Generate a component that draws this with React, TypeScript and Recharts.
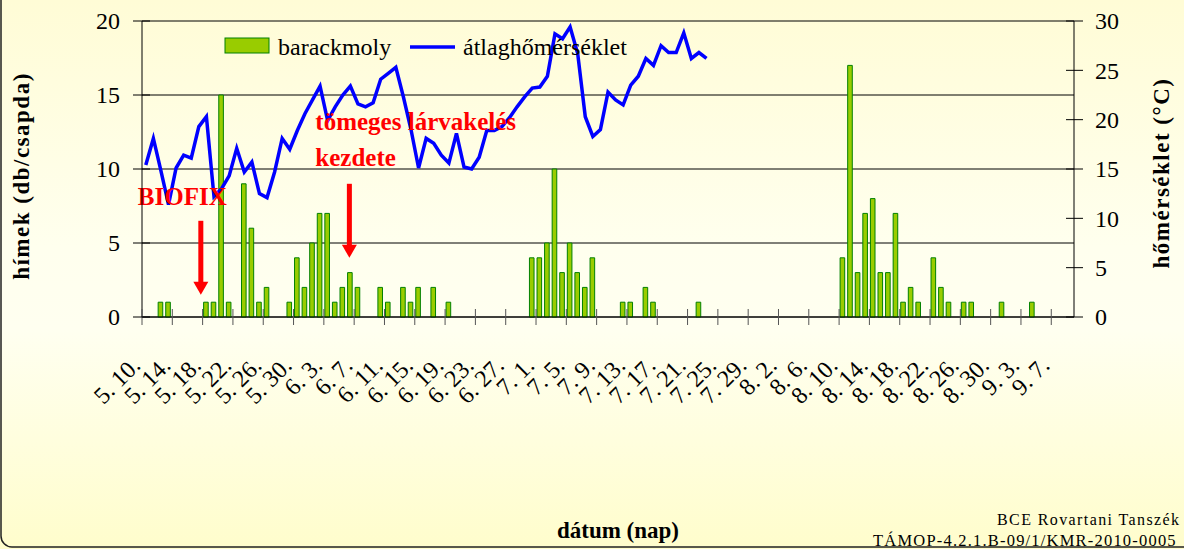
import { ComposedChart, Bar, Line, XAxis, YAxis, CartesianGrid, Legend, ReferenceLine } from 'recharts'

// month, first day, last day shown
const MONTHS = [
  [5, 10, 31],
  [6, 1, 30],
  [7, 1, 31],
  [8, 1, 31],
  [9, 1, 9],
]
const DATES = MONTHS.flatMap(([m, from, to]) =>
  Array.from({ length: to - from + 1 }, (_, k) => `${m}. ${from + k}.`)
)

// barackmoly (hímek / csapda)
const MOLY_MAY = [0, 0, 1, 1, 0, 0, 0, 0, 1, 1, 15, 1, 0, 9, 6, 1, 2, 0, 0, 1, 4, 2]
const MOLY_JUN = [5, 7, 7, 1, 2, 3, 2, 0, 0, 2, 1, 0, 2, 1, 2, 0, 2, 0, 1, 0, 0, 0, 0, 0, 0, 0, 0, 0, 0, 4]
const MOLY_JUL = [4, 5, 10, 3, 5, 3, 2, 4, 0, 0, 0, 1, 1, 0, 2, 1, 0, 0, 0, 0, 0, 1, 0, 0, 0, 0, 0, 0, 0, 0, 0]
const MOLY_AUG = [0, 0, 0, 0, 0, 0, 0, 0, 0, 4, 17, 3, 7, 8, 3, 3, 7, 1, 2, 1, 0, 4, 2, 1, 0, 1, 1, 0, 0, 0, 1]
const MOLY_SEP = [0, 0, 0, 1, 0, 0, 0, 0, 0]

// átlaghőmérséklet (°C), 5.10 - 7.23
const TEMP_MAY = [15.4, 18.1, 14.8, 11.4, 15.1, 16.4, 16.1, 19.3, 20.3, 12.2, 13.0, 14.3, 17.1, 14.7, 15.7, 12.5, 12.1, 14.7, 18.1, 17.0, 18.9, 20.6]
const TEMP_JUN = [22.0, 23.4, 19.9, 21.3, 22.5, 23.4, 21.6, 21.3, 21.7, 24.1, 24.7, 25.3, 22.3, 19.0, 15.1, 18.1, 17.6, 16.4, 15.6, 18.6, 15.2, 15.0, 16.2, 18.9, 18.9, 19.3, 20.2, 21.3, 22.3, 23.2]
const TEMP_JUL = [23.3, 24.4, 28.7, 28.2, 29.4, 26.7, 20.3, 18.3, 19.0, 22.8, 22.0, 21.5, 23.5, 24.4, 26.2, 25.5, 27.5, 26.8, 26.8, 28.8, 26.2, 26.8, 26.2]

const LEFT_TICKS = [0, 5, 10, 15, 20]
const RIGHT_TICKS = [0, 5, 10, 15, 20, 25, 30]

const MOLY = [...MOLY_MAY, ...MOLY_JUN, ...MOLY_JUL, ...MOLY_AUG, ...MOLY_SEP]
const TEMP = [...TEMP_MAY, ...TEMP_JUN, ...TEMP_JUL]
const DATA = DATES.map((date, i) => ({ date, moly: MOLY[i], temp: TEMP[i] ?? null }))

const W = 1184
const H = 549
const LEFT_W = 142
const RIGHT_W = 110
const PLOT_W = W - LEFT_W - RIGHT_W
const HALF_BAND = PLOT_W / DATES.length / 2

const FONT = '"Liberation Serif", "Times New Roman", serif'

function DateTick({ x, y, payload }: any) {
  const bx = x - HALF_BAND
  const tx = x - 4
  const ty = y + 50
  return (
    <g>
      <line x1={bx} x2={bx} y1={y - 8} y2={y + 8} stroke="#555" />
      <text x={tx} y={ty} transform={`rotate(-45 ${tx} ${ty})`} textAnchor="end" fontSize={24} fontFamily={FONT} fill="#000">
        {payload.value}
      </text>
    </g>
  )
}

function LeftTick({ x, y, payload }: any) {
  return (
    <g>
      <line x1={x - 9} x2={x + 8} y1={y} y2={y} stroke="#000" />
      <text x={x - 22} y={y} dy="0.35em" textAnchor="end" fontSize={24} fontFamily={FONT} fill="#000">
        {payload.value}
      </text>
    </g>
  )
}

function RightTick({ x, y, payload }: any) {
  return (
    <g>
      <line x1={x - 8} x2={x + 9} y1={y} y2={y} stroke="#000" />
      <text x={x + 21} y={y} dy="0.35em" textAnchor="start" fontSize={24} fontFamily={FONT} fill="#000">
        {payload.value}
      </text>
    </g>
  )
}

function LegendBox() {
  return (
    <svg width={440} height={32} style={{ display: 'block' }}>
      <rect x={5} y={5} width={44} height={15} fill="#99CC00" stroke="#008000" />
      <text x={58} y={22} fontSize={24} fontFamily={FONT} fill="#000">barackmoly</text>
      <line x1={190} x2={235} y1={14} y2={14} stroke="#0000FF" strokeWidth={3.5} />
      <text x={243} y={22} fontSize={24} fontFamily={FONT} fill="#000">átlaghőmérséklet</text>
    </svg>
  )
}

type Note = { text: string; dx: number; dy: number }

function arrowShape(notes: Note[], shift: number) {
  return (p: any) => {
    const x = p.x1 + shift
    const top = Math.min(p.y1, p.y2)
    const tip = Math.max(p.y1, p.y2)
    return (
      <g>
        <rect x={x - 2.5} y={top} width={5} height={tip - top - 12} fill="#FF0000" />
        <polygon points={`${x - 7.5},${tip - 13} ${x + 7.5},${tip - 13} ${x},${tip}`} fill="#FF0000" />
        {notes.map((n) => (
          <text key={n.text} x={x + n.dx} y={top + n.dy} fontSize={25} fontWeight="bold" fontFamily={FONT} fill="#FF0000">
            {n.text}
          </text>
        ))}
      </g>
    )
  }
}

export default function App() {
  return (
    <div
      style={{
        position: 'absolute',
        left: 0,
        top: 0,
        width: W,
        height: H,
        overflow: 'hidden',
        background: 'linear-gradient(180deg, #FFFCD6 0%, #FFFFEE 45%, #FFFFF0 60%, #FFFDCC 100%)',
      }}
    >
      <svg width={W} height={H} style={{ position: 'absolute', left: 0, top: 0 }}>
        <rect x={1} y={-30} width={1300} height={577} rx={11} fill="none" stroke="#222" strokeWidth={1.5} />
        <text x={997} y={525} fontSize={16} letterSpacing={1.4} fontFamily={FONT} fill="#000">BCE Rovartani Tanszék</text>
        <text x={873} y={546} fontSize={16.5} letterSpacing={1.2} fontFamily={FONT} fill="#000">TÁMOP-4.2.1.B-09/1/KMR-2010-0005</text>
      </svg>
      <ComposedChart
        width={W}
        height={H}
        data={DATA}
        margin={{ top: 21, right: 0, bottom: 0, left: 0 }}
        barGap={0}
        style={{ position: 'absolute', left: 0, top: 0 }}
      >
        <CartesianGrid yAxisId="left" vertical={false} stroke="#000" />
        <XAxis
          dataKey="date"
          interval={3}
          height={232}
          tickSize={0}
          tickMargin={0}
          tickLine={false}
          axisLine={{ stroke: '#000' }}
          tick={(p: any) => <DateTick {...p} />}
          label={{
            content: (lp: any) => {
              const vb = lp.viewBox
              return (
                <text x={vb.x + vb.width / 2 + 10} y={vb.y + vb.height - 11} textAnchor="middle" fontSize={23} fontWeight="bold" fontFamily={FONT} fill="#000">
                  dátum (nap)
                </text>
              )
            },
          }}
        />
        <YAxis
          yAxisId="left"
          domain={[0, 20]}
          ticks={LEFT_TICKS}
          interval={0}
          width={LEFT_W}
          tickSize={0}
          tickMargin={0}
          tickLine={false}
          axisLine={{ stroke: '#000' }}
          tick={(p: any) => <LeftTick {...p} />}
          label={{
            content: (lp: any) => {
              const vb = lp.viewBox
              const cy = vb.y + vb.height / 2 + 7
              return (
                <text transform={`translate(29 ${cy}) rotate(-90)`} textAnchor="middle" fontSize={23} letterSpacing={1.5} fontWeight="bold" fontFamily={FONT} fill="#000">
                  hímek (db/csapda)
                </text>
              )
            },
          }}
        />
        <YAxis
          yAxisId="right"
          orientation="right"
          domain={[0, 30]}
          ticks={RIGHT_TICKS}
          interval={0}
          width={RIGHT_W}
          tickSize={0}
          tickMargin={0}
          tickLine={false}
          axisLine={{ stroke: '#000' }}
          tick={(p: any) => <RightTick {...p} />}
          label={{
            content: (lp: any) => {
              const vb = lp.viewBox
              const cy = vb.y + vb.height / 2 + 4
              return (
                <text transform={`translate(${vb.x + 95} ${cy}) rotate(-90)`} textAnchor="middle" fontSize={23} letterSpacing={1.5} fontWeight="bold" fontFamily={FONT} fill="#000">
                  hőmérséklet (°C)
                </text>
              )
            },
          }}
        />
        <Bar yAxisId="left" dataKey="moly" name="barackmoly" fill="#99CC00" stroke="#008000" strokeWidth={1} barSize={4.6} isAnimationActive={false} />
        <Line
          yAxisId="right"
          dataKey="temp"
          name="átlaghőmérséklet"
          type="linear"
          stroke="#0000FF"
          strokeWidth={3.5}
          dot={false}
          activeDot={false}
          connectNulls={false}
          isAnimationActive={false}
        />
        <ReferenceLine
          yAxisId="left"
          segment={[{ x: '5. 17.', y: 6.5 }, { x: '5. 17.', y: 1.5 }]}
          ifOverflow="visible"
          shape={arrowShape([{ text: 'BIOFIX', dx: -63, dy: -16 }], 2)}
        />
        <ReferenceLine
          yAxisId="left"
          segment={[{ x: '6. 6.', y: 9 }, { x: '6. 6.', y: 4 }]}
          ifOverflow="visible"
          shape={arrowShape(
            [
              { text: 'tömeges lárvakelés', dx: -34, dy: -54 },
              { text: 'kezdete', dx: -34, dy: -18 },
            ],
            -1
          )}
        />
        <Legend
          verticalAlign="middle"
          align="center"
          layout="horizontal"
          wrapperStyle={{ top: 33, left: 220, width: 'auto' }}
          content={() => <LegendBox />}
        />
      </ComposedChart>
    </div>
  )
}
